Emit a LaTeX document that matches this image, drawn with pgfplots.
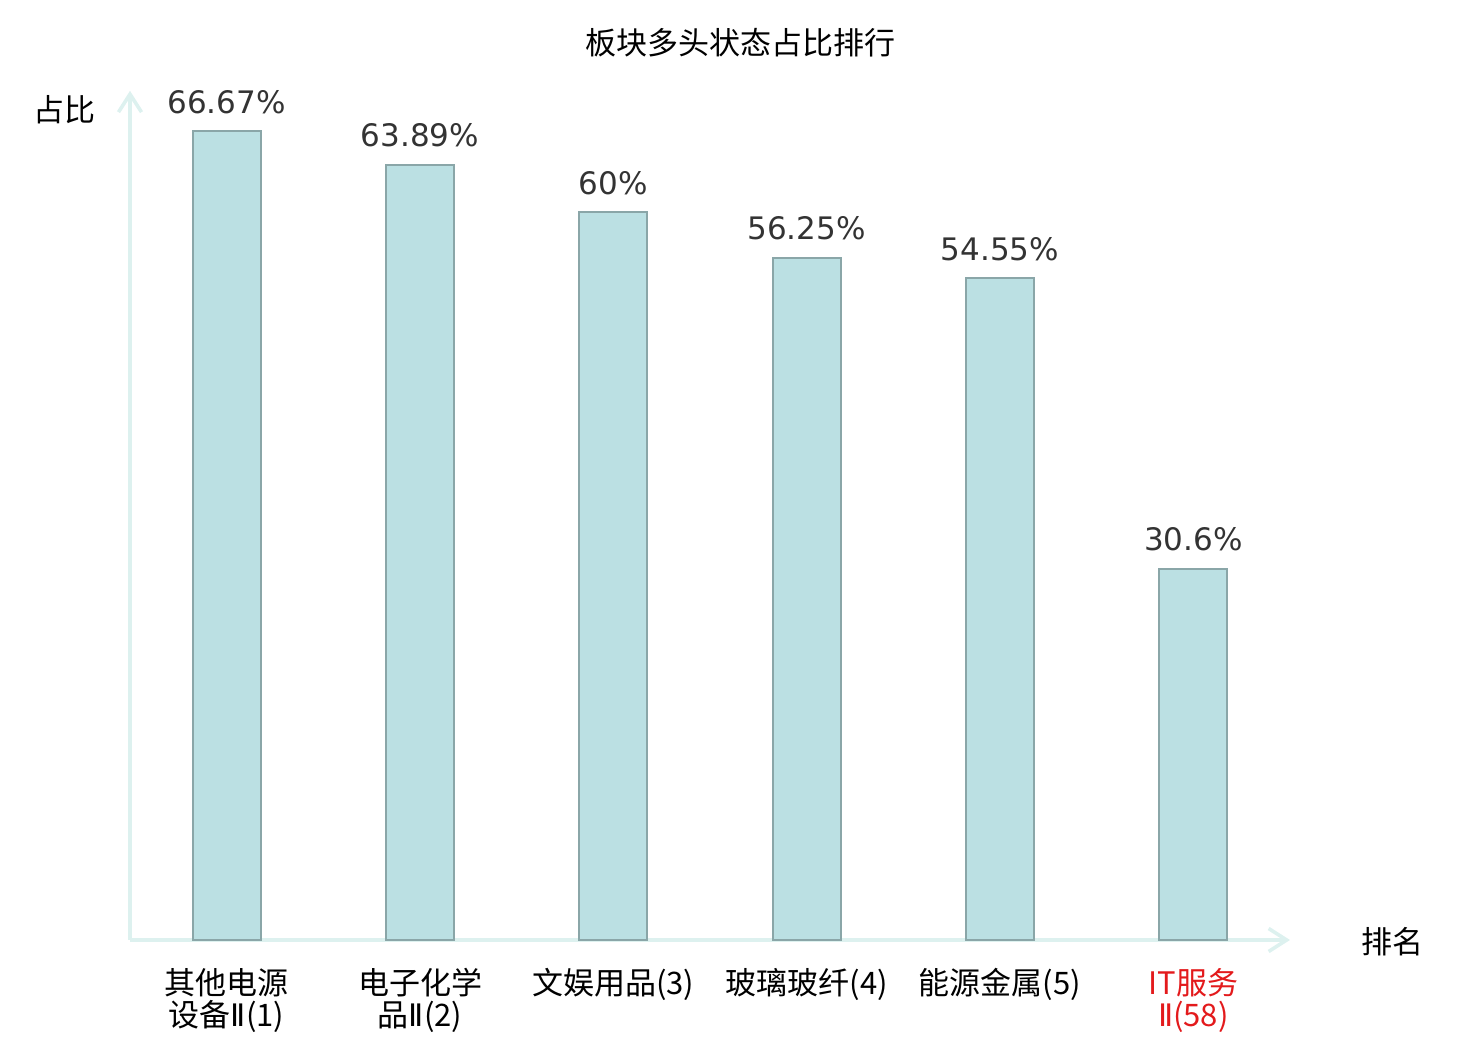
\documentclass[border=0pt]{standalone}
\usepackage{pgfplots}
\pgfplotsset{compat=1.18}
\usepackage{fontspec}
\setmainfont{Noto Sans CJK SC}
\newfontfamily\dejavu{DejaVu Sans}
\usetikzlibrary{arrows.meta}
\definecolor{barfill}{HTML}{BBE0E3}
\definecolor{baredge}{HTML}{8AA6A8}
\definecolor{axline}{HTML}{DDF1EF}
\definecolor{vallab}{HTML}{333333}
\definecolor{redlab}{HTML}{E31A1C}
\newcommand{\rII}{{\dejavu Ⅱ}}
\begin{document}
\begin{tikzpicture}[x=1pt,y=1pt]
\useasboundingbox (0,0) rectangle (740,520);
\begin{axis}[
  at={(65pt,50pt)}, anchor=south west,
  scale only axis, width=580pt, height=424.6pt,
  xmin=-0.5, xmax=5.5, ymin=0, ymax=70,
  clip=false,
  axis lines=left,
  axis line style={axline, line width=1.8pt, -{Straight Barb[length=9pt,width=11.5pt]}},
  ytick=\empty,
  xtick=data,
  major tick length=0pt,
  xticklabels={{其他电源\\设备\rII(1)},{电子化学\\品\rII(2)},{文娱用品(3)},{玻璃玻纤(4)},{能源金属(5)},{{\color{redlab}IT服务}\\{\color{redlab}\rII(58)}}},
  xticklabel style={align=center, font=\fontsize{15.5}{16}\selectfont, yshift=-10.5pt},
  nodes near coords,
  point meta=explicit symbolic,
  nodes near coords style={font=\dejavu\fontsize{15.5}{18}\selectfont, color=vallab, anchor=base, yshift=9pt},
]
\addplot[ybar, bar width=34pt, fill=barfill, draw=baredge, line width=1.1pt]
  coordinates {(0,66.67) [66.67\%] (1,63.89) [63.89\%] (2,60) [60\%] (3,56.25) [56.25\%] (4,54.55) [54.55\%] (5,30.6) [30.6\%]};
\end{axis}
\node[font=\fontsize{15.5}{18}\selectfont] at (370,498.5) {板块多头状态占比排行};
\node[font=\fontsize{15.5}{18}\selectfont] at (32,465) {占比};
\node[font=\fontsize{15.5}{18}\selectfont] at (696,49) {排名};
\end{tikzpicture}
\end{document}
